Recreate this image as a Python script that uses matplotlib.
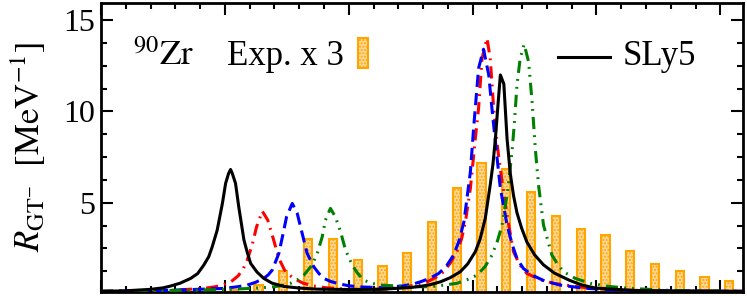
import numpy as np
import matplotlib
matplotlib.use('Agg')
import matplotlib.pyplot as plt
from matplotlib.patches import Rectangle
from matplotlib.ticker import MultipleLocator

plt.rcParams['font.family'] = 'serif'
plt.rcParams['font.serif'] = ['Liberation Serif', 'DejaVu Serif']
plt.rcParams['mathtext.fontset'] = 'stix'
plt.rcParams['hatch.linewidth'] = 1.0

# experimental strength (x 3), 1 MeV bins
exp_x = [5.36, 6.36, 7.36, 8.36, 9.36, 10.36, 11.36, 12.36, 13.36, 14.36, 15.36,
         16.36, 17.36, 18.36, 19.36, 20.36, 21.36, 22.36, 23.36, 24.36, 25.36]
exp_y = [0.22, 0.5, 1.25, 3.0, 3.0, 1.86, 1.52, 2.23, 3.96, 5.79, 7.19,
         6.82, 5.57, 4.29, 3.54, 3.23, 2.35, 1.63, 1.26, 0.91, 0.73]

# SLy5 (black solid)
sly5_x = [0, 1, 2, 2.5, 2.81, 3.2, 3.62, 3.9, 4.15, 4.35, 4.49, 4.69, 4.9, 5.03, 5.15,
          5.23, 5.3, 5.43, 5.56, 5.77, 5.9, 6.04, 6.3, 6.57, 6.9, 7.38, 8.0, 8.73, 10,
          11.28, 12.0, 12.5, 12.89, 13.3, 13.7, 14.1, 14.5, 14.8, 15.11, 15.3, 15.51,
          15.71, 15.82, 15.92, 16.02, 16.12, 16.26, 16.39, 16.52, 16.65, 16.79, 16.98,
          17.19, 17.5, 17.86, 18.3, 18.9, 19.4, 19.95, 21.5, 23, 25.9]
sly5_y = [0.15, 0.18, 0.26, 0.34, 0.44, 0.6, 0.86, 1.12, 1.59, 2.05, 2.59, 3.5, 4.96,
          6.06, 6.6, 6.82, 6.6, 6.06, 4.78, 2.96, 2.3, 1.68, 1.2, 0.86, 0.6, 0.42, 0.33,
          0.27, 0.25, 0.26, 0.32, 0.36, 0.42, 0.52, 0.67, 0.9, 1.22, 1.65, 2.32, 3.0,
          4.14, 5.97, 7.1, 8.52, 10.3, 11.99, 11.5, 8.5, 6.6, 5.4, 4.45, 3.6, 2.85, 2.15,
          1.6, 1.15, 0.76, 0.5, 0.33, 0.2, 0.17, 0.15]

# red dash-dot
red_x = [0, 2, 3, 4.15, 4.6, 4.9, 5.25, 5.53, 5.73, 5.9, 6.1, 6.28, 6.51, 6.73, 6.95,
         7.18, 7.41, 7.6, 7.78, 8.15, 8.59, 9.0, 9.5, 10.5, 11.5, 12.3, 12.8, 13.16,
         13.5, 13.83, 14.1, 14.37, 14.55, 14.71, 14.91, 15.11, 15.24, 15.38, 15.58,
         15.71, 15.85, 16.01, 16.19, 16.41, 16.65, 16.9, 17.19, 17.7, 18.27, 19.21,
         20.5, 22, 25.9]
red_y = [0.15, 0.18, 0.22, 0.31, 0.4, 0.49, 0.68, 0.99, 1.35, 1.86, 2.68, 3.68, 4.54,
         4.05, 3.05, 1.95, 1.31, 1.05, 0.86, 0.6, 0.44, 0.36, 0.3, 0.25, 0.28, 0.4,
         0.52, 0.67, 0.9, 1.22, 1.7, 2.32, 3.0, 3.96, 5.79, 8.52, 10.16, 12.9, 14.0,
         12.9, 10.16, 7.97, 6.15, 4.14, 2.32, 1.6, 1.13, 0.8, 0.59, 0.4, 0.25, 0.18,
         0.15]

# blue dashed
blue_x = [0, 2, 3.5, 4.96, 5.5, 5.9, 6.25, 6.57, 6.75, 6.91, 7.18, 7.38, 7.49, 7.72,
          7.92, 8.12, 8.32, 8.59, 8.8, 8.99, 9.25, 9.53, 9.9, 10.34, 11.3, 12.2, 12.6,
          12.89, 13.25, 13.63, 13.95, 14.23, 14.45, 14.65, 14.91, 15.04, 15.24, 15.44,
          15.65, 15.78, 15.96, 16.12, 16.39, 16.6, 16.79, 17.05, 17.4, 17.9, 18.54,
          19.5, 21, 25.9]
blue_y = [0.15, 0.18, 0.24, 0.31, 0.4, 0.49, 0.65, 0.86, 1.05, 1.31, 2.23, 3.5, 4.23,
          4.96, 4.42, 3.32, 2.23, 1.49, 1.12, 0.86, 0.7, 0.59, 0.48, 0.4, 0.35, 0.45,
          0.55, 0.67, 0.85, 1.13, 1.55, 2.13, 2.9, 3.96, 6.69, 9.07, 12.35, 13.4, 12.0,
          10.16, 7.79, 5.79, 3.78, 2.7, 1.95, 1.4, 1.04, 0.72, 0.49, 0.32, 0.2, 0.15]

# green dash-dot-dot
green_x = [0, 3, 5, 6.2, 6.98, 7.35, 7.65, 7.95, 8.19, 8.52, 8.73, 8.93, 9.06, 9.26,
           9.46, 9.67, 9.87, 10.14, 10.35, 10.6, 10.9, 11.28, 12.3, 13.29, 13.9, 14.37,
           14.8, 15.18, 15.5, 15.78, 16.0, 16.19, 16.41, 16.59, 16.69, 16.79, 16.92,
           17.08, 17.26, 17.4, 17.53, 17.66, 17.86, 18.2, 18.45, 18.67, 19.14, 19.75,
           20.5, 21.36, 23, 25.9]
green_y = [0.15, 0.2, 0.25, 0.32, 0.4, 0.48, 0.59, 0.8, 1.04, 1.59, 2.23, 3.14, 4.05,
           4.69, 4.23, 3.41, 2.41, 1.59, 1.15, 0.77, 0.6, 0.49, 0.42, 0.4, 0.5, 0.59,
           0.8, 1.04, 1.5, 2.13, 2.9, 3.78, 5.6, 7.79, 9.43, 11.44, 12.9, 13.67, 12.71,
           10.53, 7.97, 5.97, 3.78, 2.13, 1.6, 1.22, 0.86, 0.59, 0.42, 0.31, 0.2, 0.15]

orange = '#FFA500'
bar_fill = '#FFD898'
fig = plt.figure(figsize=(7.47, 2.96), dpi=100)
ax = fig.add_axes([0.1352, 0.0145, 0.859, 0.9754])

ax.bar(exp_x, exp_y, width=0.33, facecolor=bar_fill, edgecolor=orange,
       linewidth=1.5, hatch='.....', zorder=1)

lw = 2.2
ax.plot(red_x, red_y, color='red', lw=lw, ls=(0, (4, 2, 0.6, 2)), zorder=3)
ax.plot(blue_x, blue_y, color='blue', lw=lw, ls=(0, (4, 2)), zorder=3)
ax.plot(green_x, green_y, color='green', lw=lw, ls=(0, (4, 2, 0.6, 2, 0.6, 2)), zorder=3)
ax.plot(sly5_x, sly5_y, color='black', lw=lw, zorder=4)

ax.set_xlim(0, 25.9)
ax.set_ylim(0.13, 15.93)
ax.xaxis.set_major_locator(MultipleLocator(5))
ax.xaxis.set_minor_locator(MultipleLocator(1))
ax.yaxis.set_major_locator(MultipleLocator(5))
ax.yaxis.set_minor_locator(MultipleLocator(1.25))
ax.tick_params(which='both', direction='in', top=True, right=True, width=1.5,
               labelbottom=False, labelsize=23, pad=4)
ax.tick_params(which='major', length=8.5)
ax.tick_params(which='minor', length=4.5)
for s in ax.spines.values():
    s.set_linewidth(2)

ax.set_ylabel(r'$R_{\rm GT^{-}}\ \ [{\rm MeV}^{-1}]$', fontsize=25, labelpad=11)

ax.text(0.05, 0.785, r'$^{90}{\rm Zr}$', transform=ax.transAxes, fontsize=25,
        va='baseline', ha='left')
ax.text(0.196, 0.785, 'Exp. x 3', transform=ax.transAxes, fontsize=25,
        va='baseline', ha='left')
ax.add_patch(Rectangle((0.4005, 0.775), 0.0156, 0.104, transform=ax.transAxes,
                       facecolor=bar_fill, edgecolor=orange, linewidth=1.5,
                       hatch='.....'))
ax.plot([0.712, 0.793], [0.813, 0.813], color='black', lw=lw, transform=ax.transAxes)
ax.text(0.8135, 0.785, 'SLy5', transform=ax.transAxes, fontsize=25,
        va='baseline', ha='left')

fig.savefig('out.png', dpi=100)
